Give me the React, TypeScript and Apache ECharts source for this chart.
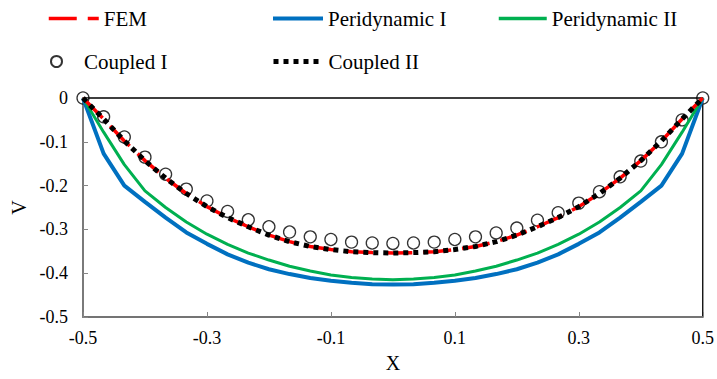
import React, { useEffect, useRef } from "react";
import * as echarts from "echarts";

const X = [-0.5, -0.4667, -0.4333, -0.4, -0.3667, -0.3333, -0.3, -0.2667, -0.2333, -0.2, -0.1667, -0.1333, -0.1, -0.0667, -0.0333, 0,
  0.0333, 0.0667, 0.1, 0.1333, 0.1667, 0.2, 0.2333, 0.2667, 0.3, 0.3333, 0.3667, 0.4, 0.4333, 0.4667, 0.5];

const FEM = [0, -0.048, -0.098, -0.143, -0.183, -0.218, -0.248, -0.273, -0.294, -0.313, -0.328, -0.339, -0.346, -0.351, -0.353, -0.354,
  -0.353, -0.351, -0.346, -0.339, -0.328, -0.313, -0.294, -0.273, -0.248, -0.218, -0.183, -0.143, -0.098, -0.048, 0];

const PERI_I = [0, -0.127, -0.2, -0.237, -0.273, -0.307, -0.333, -0.357, -0.376, -0.391, -0.402, -0.411, -0.417, -0.422, -0.425, -0.426,
  -0.425, -0.422, -0.417, -0.411, -0.402, -0.391, -0.376, -0.357, -0.333, -0.307, -0.273, -0.237, -0.2, -0.127, 0];

const PERI_II = [0, -0.078, -0.152, -0.212, -0.25, -0.283, -0.311, -0.334, -0.354, -0.37, -0.384, -0.395, -0.404, -0.41, -0.413, -0.415,
  -0.413, -0.41, -0.404, -0.395, -0.384, -0.37, -0.354, -0.334, -0.311, -0.283, -0.25, -0.212, -0.152, -0.078, 0];

const COUPLED_I = [0, -0.043, -0.089, -0.135, -0.174, -0.208, -0.235, -0.259, -0.278, -0.294, -0.306, -0.317, -0.323, -0.329, -0.331, -0.332,
  -0.331, -0.329, -0.323, -0.317, -0.308, -0.297, -0.279, -0.262, -0.24, -0.214, -0.18, -0.144, -0.1, -0.05, 0];

const COUPLED_II = [0, -0.048, -0.098, -0.143, -0.183, -0.218, -0.248, -0.273, -0.294, -0.313, -0.328, -0.339, -0.346, -0.351, -0.353, -0.354,
  -0.353, -0.351, -0.346, -0.339, -0.328, -0.313, -0.294, -0.273, -0.248, -0.218, -0.183, -0.143, -0.098, -0.048, 0];

const X_TICKS = [-0.5, -0.3, -0.1, 0.1, 0.3, 0.5];

const pairs = (ys: number[]) => X.map((x, i) => [x, ys[i]]);

const FONT = "'Liberation Serif', 'Times New Roman', serif";

export default function App() {
  const ref = useRef<HTMLDivElement>(null);
  useEffect(() => {
    if (!ref.current) return;
    const chart = echarts.init(ref.current, undefined, { renderer: "svg" });
    const legendText = { fontFamily: FONT, fontSize: 21, color: "#000" };
    const mkLegend = (name: string, left: number, top: number, w: number, h: number, lineWidth: number) => ({
      data: [name],
      left,
      top,
      padding: 0,
      itemWidth: w,
      itemHeight: h,
      selectedMode: false,
      textStyle: legendText,
      ...(lineWidth > 0 ? { itemStyle: { opacity: 0 }, lineStyle: { width: lineWidth } } : {}),
    });
    chart.setOption({
      animation: false,
      backgroundColor: "#fff",
      legend: [
        mkLegend("FEM", 47, 8, 50, 14, 3.5),
        mkLegend("Peridynamic I", 271, 8, 50, 14, 4),
        mkLegend("Peridynamic II", 497, 8, 48, 14, 3.5),
        mkLegend("Coupled I", 50, 51, 45, 11, 0),
        mkLegend("Coupled II", 271, 51, 50, 14, 5),
      ],
      grid: {
        left: 83,
        right: 13,
        top: 98,
        bottom: 62,
        show: true,
        borderColor: "#000",
        borderWidth: 1.3,
        containLabel: false,
      },
      xAxis: {
        type: "value",
        min: -0.5,
        max: 0.5,
        name: "X",
        nameLocation: "middle",
        nameGap: 36,
        nameTextStyle: { fontFamily: FONT, fontSize: 20, color: "#000" },
        axisLine: { show: true, onZero: false, lineStyle: { color: "#868686", width: 1.5 } },
        axisTick: { show: true, inside: true, length: 5, customValues: X_TICKS, lineStyle: { color: "#868686", width: 1 } },
        axisLabel: {
          customValues: X_TICKS,
          margin: 12,
          fontFamily: FONT,
          fontSize: 18,
          color: "#000",
          formatter: (v: number) => v.toFixed(1),
        },
        splitLine: { show: false },
      },
      yAxis: {
        type: "value",
        min: -0.5,
        max: 0,
        interval: 0.1,
        name: "V",
        nameLocation: "middle",
        nameGap: 48,
        nameTextStyle: { fontFamily: FONT, fontSize: 20, color: "#000" },
        axisLine: { show: true, onZero: false, lineStyle: { color: "#868686", width: 1.5 } },
        axisTick: { show: true, inside: true, length: 5, lineStyle: { color: "#868686", width: 1 } },
        axisLabel: {
          margin: 15,
          fontFamily: FONT,
          fontSize: 18,
          color: "#000",
          formatter: (v: number) => (Math.abs(v) < 1e-9 ? "0" : v.toFixed(1)),
        },
        splitLine: { show: false },
      },
      series: [
        {
          name: "Peridynamic I",
          type: "line",
          data: pairs(PERI_I),
          symbol: "none",
          showSymbol: false,
          lineStyle: { color: "#0070C0", width: 4 },
          itemStyle: { color: "#0070C0" },
        },
        {
          name: "Peridynamic II",
          type: "line",
          data: pairs(PERI_II),
          symbol: "none",
          showSymbol: false,
          lineStyle: { color: "#00B050", width: 3 },
          itemStyle: { color: "#00B050" },
        },
        {
          name: "FEM",
          type: "line",
          data: pairs(FEM),
          symbol: "none",
          showSymbol: false,
          lineStyle: { color: "#FF0000", width: 3.5, type: [28, 11], cap: "butt" },
          itemStyle: { color: "#FF0000" },
        },
        {
          name: "Coupled I",
          type: "scatter",
          data: pairs(COUPLED_I),
          symbol: "circle",
          symbolSize: 12,
          itemStyle: { color: "rgba(0,0,0,0)", borderColor: "#000", borderWidth: 1.3 },
        },
        {
          name: "Coupled II",
          type: "line",
          data: pairs(COUPLED_II),
          symbol: "none",
          showSymbol: false,
          lineStyle: { color: "#000", width: 5, type: [5, 5], cap: "butt" },
          itemStyle: { color: "#000" },
        },
      ],
    });
    return () => chart.dispose();
  }, []);
  return (
    <div
      ref={ref}
      style={{ position: "absolute", left: 0, top: 0, width: 717, height: 379 }}
    />
  );
}
